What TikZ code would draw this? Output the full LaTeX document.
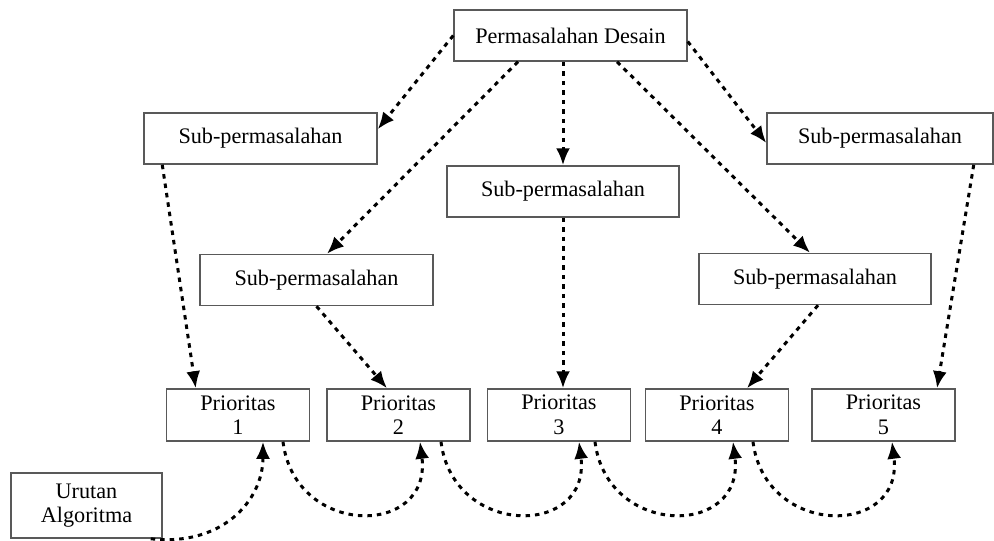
\documentclass[tikz,border=0pt]{standalone}
\usepackage{fontspec}
\setmainfont{Liberation Serif}
\usetikzlibrary{arrows.meta,calc}
\begin{document}
\begin{tikzpicture}[x=1pt,y=-1pt,
  box/.style={draw=black!65,line width=1.5pt,inner sep=0pt,align=center,
    font=\fontsize{22.2pt}{24.5pt}\selectfont},
  sub/.style={box,minimum height=51pt},
  prio/.style={box,minimum width=143pt,minimum height=52pt},
  conn/.style={line width=3pt,dash pattern=on 4.5pt off 5pt,
    -{Latex[length=17pt,width=14pt]}}
]
\useasboundingbox (0,0) rectangle (994,541);
\node[sub,minimum width=233pt] (top) at (570.5,35.5) {Permasalahan Desain};
\node[sub,minimum width=233pt] (L1) at (260.5,138.5) {Sub-permasalahan};
\node[sub,minimum width=232pt] (C) at (563,191.5) {Sub-permasalahan};
\node[sub,minimum width=226pt] (R1) at (880,138.5) {Sub-permasalahan};
\node[sub,minimum width=233pt] (L2) at (316.5,280) {Sub-permasalahan};
\node[sub,minimum width=232pt] (R2) at (815,279) {Sub-permasalahan};
\node[prio] (P1) at (238,415) {Prioritas\\1};
\node[prio] (P2) at (398.5,415) {Prioritas\\2};
\node[prio] (P3) at (559,415) {Prioritas\\3};
\node[prio] (P4) at (717,415) {Prioritas\\4};
\node[prio] (P5) at (883.5,415) {Prioritas\\5};
\node[box,minimum width=151pt,minimum height=65pt] (U) at (86.5,505.5) {Urutan\\Algoritma};
% straight connectors
\draw[conn] (top.west) -- ($(L1.north east)+(0,17)$);
\draw[conn] ($(top.south)+(-52.5,0)$) -- ($(L2.north)+(10.5,0)$);
\draw[conn] ($(top.south)+(-7.5,0)$) -- (C.north);
\draw[conn] ($(top.south)+(46.5,0)$) -- ($(R2.north)+(-5,0)$);
\draw[conn] ($(top.east)+(0,6)$) -- ($(R1.west)+(0,4.5)$);
\draw[conn] ($(L1.south west)+(19,0)$) -- ($(P1.north west)+(30,0)$);
\draw[conn] (L2.south) -- ($(P2.north)+(-11.5,0)$);
\draw[conn] (C.south) -- ($(P3.north)+(4,0)$);
\draw[conn] ($(R2.south)+(3,0)$) -- ($(P4.north)+(30,0)$);
\draw[conn] ($(R1.south east)+(-20,0)$) -- ($(P5.north)+(53.5,0)$);
% curved connectors
\draw[conn] ($(U.south east)+(-12,0)$) .. controls +(70,8) and +(0,60) .. ($(P1.south)+(25,0)$);
\draw[conn] ($(P1.south)+(45,0)$) .. controls +(12,96) and +(12,96) .. ($(P2.south)+(21.5,0)$);
\draw[conn] ($(P2.south)+(42.5,0)$) .. controls +(12,96) and +(12,96) .. ($(P3.south)+(20,0)$);
\draw[conn] ($(P3.south)+(36,0)$) .. controls +(12,96) and +(12,96) .. ($(P4.south)+(16,0)$);
\draw[conn] ($(P4.south)+(36,0)$) .. controls +(12,96) and +(12,96) .. ($(P5.south)+(8.5,0)$);
\end{tikzpicture}
\end{document}
